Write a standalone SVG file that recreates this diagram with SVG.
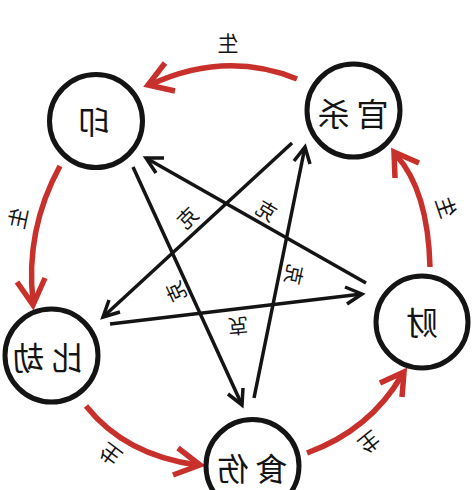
<svg xmlns="http://www.w3.org/2000/svg" width="474" height="490" viewBox="0 0 474 490">
<style>
.node{fill:#fff;stroke:#141414;stroke-width:5}
.nt{font-family:"Noto Sans CJK SC","Noto Sans",sans-serif;font-size:32px;fill:#141414;text-anchor:middle;dominant-baseline:central}
.lbl{font-family:"Noto Sans CJK SC","Noto Sans",sans-serif;fill:#141414;text-anchor:middle;dominant-baseline:central}
.sheng{font-size:21px}
.ke{font-size:20px}
.red{fill:none;stroke:#c8302b;stroke-width:5.5;stroke-linecap:butt;stroke-linejoin:miter}
.blk{fill:none;stroke:#141414;stroke-width:3.5;stroke-linecap:butt;stroke-linejoin:miter}
</style>
<rect width="474" height="490" fill="#fff"/>
<g id="connectors">
  <path class="red" d="M297,79 Q225,50 150,85"/>
  <path class="red" d="M165,63 L148,85 L175,91"/>
  <path class="red" d="M60,166 Q25,230 33,302"/>
  <path class="red" d="M17,282 L33,305 L45,278"/>
  <path class="red" d="M86,406 Q125,455 197,465"/>
  <path class="red" d="M178,448 L200,465 L173,475"/>
  <path class="red" d="M307,453 Q370,430 402,375"/>
  <path class="red" d="M380,383 L404,372 L402,397"/>
  <path class="red" d="M430,267 Q428,190 396,155"/>
  <path class="red" d="M419,163 L394,152 L395,178"/>

  <path class="blk" d="M133,167 L242,405"/>
  <path class="blk" d="M243,388 L242,405 L228,394"/>
  <path class="blk" d="M254,398 L305,147"/>
  <path class="blk" d="M294,161 L305,147 L310,164"/>
  <path class="blk" d="M292,143 L103,317"/>
  <path class="blk" d="M120,312 L103,317 L109,300"/>
  <path class="blk" d="M110,324 L362,294"/>
  <path class="blk" d="M345,287 L362,294 L347,304"/>
  <path class="blk" d="M366,283 L146,158"/>
  <path class="blk" d="M156,173 L146,158 L164,158"/>

  <text class="lbl sheng" transform="translate(228,42) scale(-1,1)">生</text>
  <text class="lbl sheng" transform="translate(17,218) rotate(-78) scale(-1,1)">生</text>
  <text class="lbl sheng" transform="translate(110,455) rotate(-143) scale(-1,1)">生</text>
  <text class="lbl sheng" transform="translate(370,443) rotate(141) scale(-1,1)">生</text>
  <text class="lbl sheng" transform="translate(447,207) rotate(71) scale(-1,1)">生</text>

  <text class="lbl ke" transform="translate(187,217) rotate(-45) scale(-1,1)">克</text>
  <text class="lbl ke" transform="translate(267,210) rotate(31) scale(-1,1)">克</text>
  <text class="lbl ke" transform="translate(295,275) rotate(102) scale(-1,1)">克</text>
  <text class="lbl ke" transform="translate(238,327) rotate(175) scale(-1,1)">克</text>
  <text class="lbl ke" transform="translate(175,292) rotate(-115) scale(-1,1)">克</text>
</g>
<g id="yin">
  <circle class="node" cx="96" cy="121" r="46.5"/>
  <text class="nt" transform="translate(94,120) scale(-1,1)">印</text>
</g>
<g id="guansha">
  <circle class="node" cx="353.5" cy="110.5" r="46.5"/>
  <text class="nt" letter-spacing="7" x="3.5" transform="translate(353,112) scale(-1,1)">官杀</text>
</g>
<g id="bijie">
  <circle class="node" cx="51.5" cy="355.5" r="46.5"/>
  <text class="nt" letter-spacing="7" x="3.5" transform="translate(48,356) scale(-1,1)">比劫</text>
</g>
<g id="cai">
  <circle class="node" cx="422" cy="322" r="46"/>
  <text class="nt" transform="translate(422,321) scale(-1,1)">财</text>
</g>
<g id="shishang">
  <circle class="node" cx="252.5" cy="466" r="46.5"/>
  <text class="nt" letter-spacing="7" x="3.5" transform="translate(252,467) scale(-1,1)">食伤</text>
</g>
</svg>
